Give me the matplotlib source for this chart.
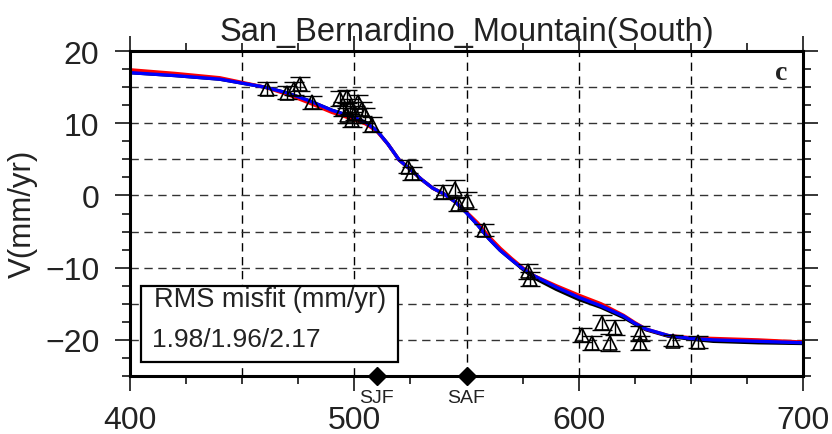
import matplotlib
matplotlib.use("Agg")
import matplotlib.pyplot as plt
from matplotlib.ticker import MultipleLocator
from matplotlib.patches import Rectangle
import matplotlib.transforms as mtransforms

plt.rcParams['font.family'] = ['Liberation Sans', 'DejaVu Sans']

# ---------------- data ----------------
obs_x = [461, 470, 473, 476, 481,
         493.6, 496.7, 501.6, 495, 498.1, 503.5, 496.7, 500.3, 504.8, 499, 507.9,
         524, 525.7, 539.5, 545, 546, 550, 558, 577.6, 578.3,
         601.4, 605.8, 610.3, 614, 616.2, 627.4, 627.4, 642.2, 653.4]
obs_v = [14.8, 14.2, 14.8, 15.4, 12.9,
         13.4, 13.7, 13.0, 12.0, 12.3, 12.0, 11.1, 11.4, 11.1, 10.5, 9.8,
         4.0, 3.1, 0.5, 0.9, -1.2, -0.7, -4.8, -10.5, -11.6,
         -19.3, -20.4, -17.6, -20.4, -18.3, -19.1, -20.4, -20.1, -20.3]
obs_err = [0.9, 0.9, 0.9, 1.0, 0.9,
           1.0, 0.9, 0.9, 1.0, 1.0, 1.0, 1.0, 1.0, 1.0, 1.0, 1.0,
           0.9, 0.9, 1.0, 1.2, 1.0, 1.2, 0.8, 1.0, 1.0,
           1.0, 1.0, 1.0, 1.2, 1.0, 1.0, 1.0, 0.8, 0.8]

model_x = [400, 420, 440, 460, 470, 480, 490, 500, 505, 510, 515, 520, 525, 530,
           535, 540, 545, 550, 555, 560, 565, 570, 575, 580, 590, 600, 610, 620,
           625, 630, 640, 650, 660, 680, 700]
model_blue = [17.0, 16.6, 16.1, 15.0, 14.2, 13.1, 11.8, 10.8, 10.1, 9.0, 7.1, 4.9,
              3.6, 2.2, 1.0, 0.2, -0.9, -2.4, -4.1, -6.0, -7.6, -8.9, -10.1, -11.1,
              -12.7, -14.1, -15.3, -16.7, -17.7, -18.5, -19.4, -19.8, -20.0, -20.2,
              -20.4]
model_red = [17.4, 16.9, 16.3, 15.0, 14.0, 12.8, 11.5, 10.5, 9.9, 8.9, 7.1, 4.9,
             3.6, 2.2, 1.0, 0.2, -0.9, -2.3, -3.8, -5.7, -7.3, -8.7, -10.0, -11.1,
             -12.5, -13.8, -15.0, -16.6, -17.6, -18.5, -19.4, -19.7, -19.8, -20.0,
             -20.3]
model_black = [17.0, 16.6, 16.1, 15.0, 14.2, 13.1, 11.8, 10.8, 10.1, 9.0, 7.1, 4.9,
               3.6, 2.2, 1.0, 0.2, -0.9, -2.4, -4.1, -6.0, -7.6, -8.9, -10.2, -11.4,
               -13.0, -14.4, -15.5, -16.9, -17.8, -18.6, -19.5, -19.9, -20.2, -20.4,
               -20.5]

fault_x = [510, 550]
fault_names = ["SJF", "SAF"]

grid_x = [450, 500, 550, 600, 650]
grid_y = [-20, -15, -10, -5, 0, 5, 10, 15]

title = "San_Bernardino_Mountain(South)"
ylabel = "V(mm/yr)"
rms_title = "RMS misfit (mm/yr)"
rms_values = "1.98/1.96/2.17"
panel = "c"

# ---------------- figure ----------------
fig = plt.figure(figsize=(8.32, 4.35), dpi=100)
ax = fig.add_axes([130/832, 1-377/435, 673/832, 325/435])
ax.set_xlim(400, 700)
ax.set_ylim(-25, 20)

# grid
for gx in grid_x:
    ax.axvline(gx, color='black', lw=1.0, ls=(0, (6, 4)), zorder=1)
for gy in grid_y:
    ax.axhline(gy, color='#333333', lw=1.0, ls=(0, (6, 4)), zorder=1)

# models
ax.plot(model_x, model_black, color='black', lw=2.4, zorder=3)
ax.plot(model_x, model_red, color='#ff0000', lw=2.4, zorder=4)
ax.plot(model_x, model_blue, color='#0000ff', lw=2.4, zorder=5)

# observations
ax.errorbar(obs_x, obs_v, yerr=obs_err, fmt='none', ecolor='black', elinewidth=1.0,
            capsize=7, capthick=1.0, zorder=6)
ax.plot(obs_x, obs_v, ls='none', marker='^', ms=10, mfc='none', mec='black',
        mew=1.2, zorder=7)

# faults
trans = mtransforms.blended_transform_factory(ax.transData, ax.transAxes)
ax.plot(fault_x, [0, 0], ls='none', marker='D', ms=9, color='black',
        transform=trans, clip_on=False, zorder=10)
for fx, nm in zip(fault_x, fault_names):
    ax.text(fx, -0.066, nm, transform=trans, ha='center', va='center',
            fontsize=14, color='#222222')

# ticks
ax.xaxis.set_major_locator(MultipleLocator(100))
ax.xaxis.set_minor_locator(MultipleLocator(25))
ax.yaxis.set_major_locator(MultipleLocator(10))
ax.yaxis.set_minor_locator(MultipleLocator(2.5))
ax.tick_params(which='both', direction='out', top=True, right=True,
               width=1.1, color='black')
ax.tick_params(which='major', length=11, labelsize=23, labelcolor='#222222')
ax.tick_params(which='minor', length=5.5)
ax.tick_params(axis='x', which='major', pad=10)
ax.tick_params(axis='y', which='major', pad=11)
for sp in ax.spines.values():
    sp.set_linewidth(2.2)
    sp.set_zorder(9)

# labels
ax.text(0.5, 1.034, title, transform=ax.transAxes, ha='center', va='baseline',
        fontsize=23.5, color='#222222')
fig.text(22.5/832, 1-214/435, ylabel, rotation=90, ha='center', va='center',
         fontsize=22.5, color='#222222')
ax.text(0.968, 0.935, panel, transform=ax.transAxes, ha='center', va='center',
        fontsize=20, fontweight='bold', family='Liberation Serif', color='#222222')

# RMS box
ax.add_patch(Rectangle((0.016, 0.043), 0.382, 0.235, transform=ax.transAxes,
                       facecolor='white', edgecolor='black', lw=1.6, zorder=8))
ax.text(0.036, 0.237, rms_title, transform=ax.transAxes, ha='left', va='center',
        fontsize=19.5, color='#222222', zorder=9)
ax.text(0.033, 0.114, rms_values, transform=ax.transAxes, ha='left', va='center',
        fontsize=19, color='#222222', zorder=9)

fig.savefig("out.png", dpi=100)
